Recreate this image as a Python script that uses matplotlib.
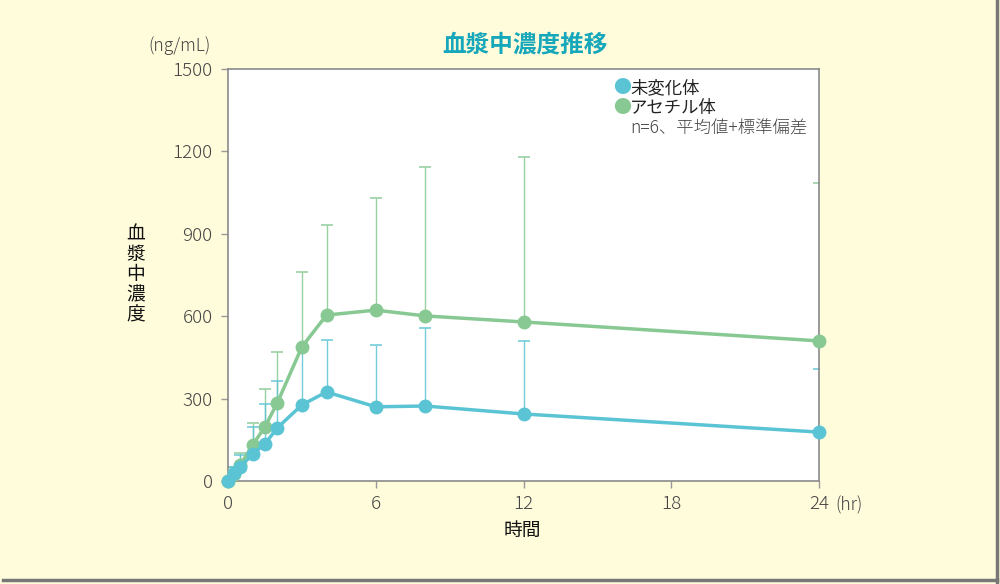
import numpy as np
import matplotlib
matplotlib.use('Agg')
import matplotlib.pyplot as plt

plt.rcParams['font.family'] = ['Noto Sans CJK JP', 'DejaVu Sans']

# data (hr, ng/mL)
hours = [0, 0.25, 0.5, 1, 1.5, 2, 3, 4, 6, 8, 12, 24]
unchanged_mean = [0, 29, 51, 98, 135, 193, 277, 324, 270, 273, 244, 178]
unchanged_sd = [0, 23, 44, 99, 145, 172, 213, 189, 225, 283, 266, 229]
acetyl_mean = [0, 25, 58, 131, 197, 284, 488, 604, 622, 601, 579, 510]
acetyl_sd = [0, 25, 45, 80, 138, 186, 274, 328, 408, 542, 601, 576]

x_ticks = [0, 6, 12, 18, 24]
y_ticks = [0, 300, 600, 900, 1200, 1500]

cyan = '#5bc4d4'
green = '#88c993'
bg = '#fffcdc'
text_col = '#444444'

fig = plt.figure(figsize=(10, 5.84), dpi=100)
fig.patch.set_facecolor(bg)
# shadow border on right and bottom
fig.add_artist(plt.Line2D([0.997, 0.997], [0.004, 1.0], color='#777777', lw=2.5, transform=fig.transFigure))
fig.add_artist(plt.Line2D([0.003, 0.997], [0.006, 0.006], color='#777777', lw=2.5, transform=fig.transFigure))

ax = fig.add_axes([0.228, 0.1764, 0.591, 0.7055])
ax.set_facecolor('white')

t = np.array(hours)


def draw_errbars(mean, sd, color):
    mean = np.array(mean)
    top = mean + np.array(sd)
    ax.vlines(t, mean, top, color=color, lw=1.0, alpha=0.85, zorder=2)
    ax.plot(t, top, linestyle='none', marker='_', markersize=9, markeredgewidth=1.2,
            color=color, alpha=0.85, zorder=2)


draw_errbars(acetyl_mean, acetyl_sd, green)
draw_errbars(unchanged_mean, unchanged_sd, cyan)

ax.plot(t, acetyl_mean, color=green, lw=2.5, marker='o', markersize=9,
        clip_on=False, zorder=3)
ax.plot(t, unchanged_mean, color=cyan, lw=2.5, marker='o', markersize=9,
        clip_on=False, zorder=4)

ax.set_xlim(0, 24)
ax.set_ylim(0, 1500)
ax.set_xticks(x_ticks)
ax.set_yticks(y_ticks)
ax.tick_params(axis='both', length=5, width=1, color='#999999', labelsize=13.5,
               labelcolor=text_col)
ax.tick_params(axis='y', pad=6)
ax.tick_params(axis='x', pad=5)
for lab in ax.get_xticklabels() + ax.get_yticklabels():
    lab.set_fontweight('light')
for s in ax.spines.values():
    s.set_color('#8a8a8a')
    s.set_linewidth(1.2)

# labels
fig.text(0.525, 1 - 44 / 584, '血漿中濃度推移', ha='center', va='center',
         fontsize=17, fontweight='bold', color='#16a7ba')
fig.text(0.180, 1 - 46 / 584, '(ng/mL)', ha='center', va='center',
         fontsize=12.5, fontweight='light', color=text_col)
fig.text(0.849, 1 - 505 / 584, '(hr)', ha='center', va='center',
         fontsize=12.5, fontweight='light', color=text_col)
fig.text(0.522, 1 - 530 / 584, '時間', ha='center', va='center',
         fontsize=13.5, color='#111111')
fig.text(0.136, 1 - 275 / 584, '血\n漿\n中\n濃\n度', ha='center', va='center',
         fontsize=13.5, color='#111111', linespacing=0.95)

# legend
for yy, lab, col in [(88, '未変化体', cyan), (108, 'アセチル体', green)]:
    fig.text(0.622, 1 - yy / 584, '●', ha='center', va='center', fontsize=13,
             color=col)
    fig.text(0.630, 1 - yy / 584, lab, ha='left', va='center', fontsize=12.5,
             color='#222222')
fig.text(0.630, 1 - 129 / 584, 'n=6、平均値+標準偏差', ha='left', va='center',
         fontsize=12.5, fontweight='light', color=text_col)

fig.savefig('out.png', dpi=100, facecolor=bg)
